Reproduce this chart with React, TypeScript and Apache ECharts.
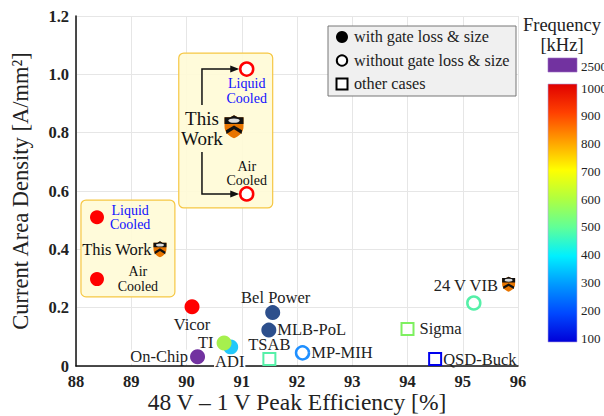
import React, { useEffect, useRef } from "react";
import * as echarts from "echarts";

const FONT = "'Liberation Serif', 'DejaVu Serif', serif";

// Axis ticks
const xMin = 88, xMax = 96, xStep = 1;
const yMin = 0, yMax = 1.2, yStep = 0.2;

// This work (filled, left box)
const twFilledEff = [88.38, 88.38];
const twFilledDensity = [0.51, 0.298];
// This work (hollow, right box)
const twHollowEff = [91.09, 91.09];
const twHollowDensity = [1.018, 0.59];

// Other filled circles (with gate loss & size)
const filledNames = ["Vicor", "Bel Power", "MLB-PoL", "ADI", "TI", "On-Chip"];
const filledEff = [90.1, 91.56, 91.49, 90.8, 90.68, 90.2];
const filledDensity = [0.203, 0.183, 0.123, 0.065, 0.079, 0.032];
const filledColors = ["#ff0000", "#2d4f8c", "#2d4f8c", "#22c8fa", "#a6f04e", "#7232a0"];

// Hollow circles (without gate loss & size)
const hollowNames = ["MP-MIH", "24 V VIB"];
const hollowEff = [92.1, 95.2];
const hollowDensity = [0.045, 0.216];
const hollowColors = ["#1e8fff", "#55f0a8"];

// Squares (other cases)
const squareNames = ["TSAB", "Sigma", "QSD-Buck"];
const squareEff = [91.5, 94.0, 94.5];
const squareDensity = [0.024, 0.127, 0.024];
const squareColors = ["#55f0a8", "#7ef060", "#0000ee"];

// Princeton logos
const logoEff = [89.52, 90.86, 95.83];
const logoDensity = [0.4, 0.82, 0.28];
const logoSizes = [[13, 16], [19, 23], [13, 15]];

// Legend
const legendLabels = ["with gate loss & size", "without gate loss & size", "other cases"];

// Colour bar
const freqTicks = [100, 200, 300, 400, 500, 600, 700, 800, 900, 1000];
const freqExtra = "2500";
const freqStops = ["#0000d8", "#0048ff", "#0098ff", "#00f0ff", "#60ff98", "#b0ff40", "#ffff00", "#ffa000", "#ff4000", "#e00000"];

const labelPos: Record<string, any> = {
  "Vicor": { position: "bottom", distance: 3 },
  "Bel Power": { position: "top", distance: 1, offset: [3, 0] },
  "MLB-PoL": { position: "right", distance: 1, offset: [0, -1] },
  "ADI": { position: "bottom", distance: 0, offset: [-1, 0], backgroundColor: "#ffffff", padding: [0, 1] },
  "TI": { position: "left", distance: 3 },
  "On-Chip": { position: "left", distance: 1, backgroundColor: "#ffffff", padding: [0, 1] },
  "MP-MIH": { position: "right", distance: 1 },
  "24 V VIB": { position: "top", distance: 3, offset: [-8, 0] },
  "TSAB": { position: "top", distance: 2, offset: [0, 1] },
  "Sigma": { position: "right", distance: 5 },
  "QSD-Buck": { position: "right", distance: 1 },
};

const labelBase = {
  show: true,
  color: "#222",
  fontFamily: FONT,
  fontSize: 16.5,
  lineHeight: 14,
};

function mk(names: string[], xs: number[], ys: number[], colors: string[], hollow: boolean) {
  return names.map((n, i) => ({
    name: n,
    value: [xs[i], ys[i]],
    itemStyle: hollow
      ? { color: "#ffffff", borderColor: colors[i], borderWidth: 2.5, opacity: 1 }
      : { color: colors[i], opacity: 1 },
    label: { ...labelBase, ...labelPos[n], formatter: n },
  }));
}

const SHIELD = "M0,2 L6,2 L10,0 L14,2 L20,2 L20,12 C20,18 15,22 10,24 C5,22 0,18 0,12 Z";
const SHIELD_TOP = "M0,2 L6,2 L10,0 L14,2 L20,2 L20,9 L0,9 Z";
const BOOK = "M4,5.5 A6,2.3 0 1,0 16,5.5 A6,2.3 0 1,0 4,5.5 Z";
const CHEVRON = "M1.5,15.5 L10,10.5 L18.5,15.5 L18,19.5 L10,14.5 L2,19.5 Z";

export default function App() {
  const ref = useRef<HTMLDivElement>(null);
  useEffect(() => {
    if (!ref.current) return;
    const chart = echarts.init(ref.current, null, { renderer: "svg" });
    const option: any = {
      animation: false,
      backgroundColor: "#ffffff",
      textStyle: { fontFamily: FONT },
      grid: { left: 76, right: 86, top: 16, bottom: 50, containLabel: false, outerBoundsMode: "none" },
      xAxis: {
        type: "value",
        min: xMin,
        max: xMax,
        interval: xStep,
        name: "48 V \u2013 1 V Peak Efficiency [%]",
        nameLocation: "middle",
        nameGap: 26,
        nameMoveOverlap: false,
        nameTextStyle: { fontSize: 23.5, color: "#222", fontFamily: FONT, lineHeight: 20 },
        axisLine: { lineStyle: { color: "#111", width: 1.5 } },
        axisTick: { show: false },
        axisLabel: { fontSize: 16.5, fontWeight: "bold", color: "#222", margin: 8, lineHeight: 14, fontFamily: FONT },
        splitLine: { show: true, lineStyle: { color: "#e6e6e6", width: 1 } },
      },
      yAxis: {
        type: "value",
        min: yMin,
        max: yMax,
        interval: yStep,
        name: "Current Area Density [A/mm\u00b2]",
        nameLocation: "middle",
        nameGap: 44,
        nameMoveOverlap: false,
        nameTextStyle: { fontSize: 22.5, color: "#222", fontFamily: FONT },
        axisLine: { show: true, lineStyle: { color: "#111", width: 1.5 } },
        axisTick: { show: false },
        axisLabel: {
          fontSize: 16.5,
          fontWeight: "bold",
          color: "#222",
          margin: 7,
          fontFamily: FONT,
          formatter: (v: number) => (v === 0 ? "0" : v.toFixed(1)),
        },
        splitLine: { show: true, lineStyle: { color: "#e6e6e6", width: 1 } },
      },
      series: [
        {
          type: "scatter",
          name: "this work filled",
          symbol: "circle",
          symbolSize: 14,
          z: 4,
          data: twFilledEff.map((x, i) => [x, twFilledDensity[i]]),
          itemStyle: { color: "#ff0000", opacity: 1 },
        },
        {
          type: "scatter",
          name: "this work hollow",
          symbol: "circle",
          symbolSize: 13,
          z: 4,
          data: twHollowEff.map((x, i) => [x, twHollowDensity[i]]),
          itemStyle: { color: "#ffffff", borderColor: "#ff0000", borderWidth: 2.5, opacity: 1 },
        },
        {
          type: "scatter",
          name: "filled",
          symbol: "circle",
          symbolSize: 15,
          z: 4,
          data: mk(filledNames, filledEff, filledDensity, filledColors, false),
        },
        {
          type: "scatter",
          name: "hollow",
          symbol: "circle",
          symbolSize: 13,
          z: 4,
          data: mk(hollowNames, hollowEff, hollowDensity, hollowColors, true),
        },
        {
          type: "scatter",
          name: "square",
          symbol: "rect",
          symbolSize: 12,
          z: 4,
          data: mk(squareNames, squareEff, squareDensity, squareColors, true).map((d) => ({
            ...d,
            itemStyle: { ...d.itemStyle, borderWidth: 2 },
          })),
        },
        {
          type: "custom",
          name: "logos",
          z: 6,
          data: logoEff.map((x, i) => [x, logoDensity[i], i]),
          renderItem: (params: any, api: any) => {
            const p = api.coord([api.value(0), api.value(1)]);
            const idx = api.value(2);
            const [w, h] = logoSizes[idx];
            const sx = w / 20;
            const sy = h / 24;
            return {
              type: "group",
              x: p[0] - w / 2,
              y: p[1] - h / 2,
              scaleX: sx,
              scaleY: sy,
              children: [
                { type: "path", shape: { pathData: SHIELD }, style: { fill: "#e87500" } },
                { type: "path", shape: { pathData: SHIELD_TOP }, style: { fill: "#111111" } },
                { type: "path", shape: { pathData: BOOK }, style: { fill: "#dcdcdc" } },
                { type: "path", shape: { pathData: CHEVRON }, style: { fill: "#111111" } },
              ],
            };
          },
        },
      ],
    };
    chart.setOption(option);

    const px = (x: number, y: number) => chart.convertToPixel({ gridIndex: 0 }, [x, y]) as number[];
    const g: any[] = [];

    // Yellow annotation boxes
    const boxes = [
      [88.09, 0.569, 89.79, 0.237],
      [89.86, 1.073, 91.56, 0.542],
    ];
    boxes.forEach(([x0, y0, x1, y1]) => {
      const a = px(x0, y0);
      const b = px(x1, y1);
      g.push({
        type: "rect",
        z: 1,
        shape: { x: a[0], y: a[1], width: b[0] - a[0], height: b[1] - a[1], r: 5 },
        style: { fill: "rgba(255,251,214,0.9)", stroke: "#f6c744", lineWidth: 1.2 },
      });
    });

    const txt = (x: number, y: number, lines: string[], size: number, color: string, lh: number) => {
      const p = px(x, y);
      lines.forEach((line, i) => {
        g.push({
          type: "text",
          z: 5,
          x: p[0],
          y: p[1] + (i - (lines.length - 1) / 2) * lh,
          style: {
            text: line,
            fontFamily: FONT,
            fontSize: size,
            fill: color,
            align: "center",
            verticalAlign: "middle",
          },
        });
      });
    };
    // Left box
    txt(88.98, 0.509, ["Liquid", "Cooled"], 14, "#1010ff", 14.5);
    txt(88.74, 0.398, ["This Work"], 16.5, "#111", 17);
    txt(89.12, 0.298, ["Air", "Cooled"], 14, "#111", 14.5);
    // Right box
    txt(91.09, 0.943, ["Liquid", "Cooled"], 14, "#1010ff", 14.5);
    txt(90.28, 0.814, ["This", "Work"], 19, "#111", 19.5);
    txt(91.09, 0.66, ["Air", "Cooled"], 14, "#111", 14.5);

    // Arrows
    const arrows = [
      [90.28, 0.895, 1.018],
      [90.28, 0.734, 0.59],
    ];
    arrows.forEach(([x, yStart, yEnd]) => {
      const s = px(x, yStart);
      const c = px(x, yEnd);
      const tip = px(90.955, yEnd);
      g.push({
        type: "polyline",
        z: 5,
        shape: { points: [s, c, [tip[0] - 7, c[1]]] },
        style: { stroke: "#111", lineWidth: 1.5, fill: null },
      });
      g.push({
        type: "polygon",
        z: 5,
        shape: { points: [[tip[0], tip[1]], [tip[0] - 9, tip[1] - 3.5], [tip[0] - 9, tip[1] + 3.5]] },
        style: { fill: "#111" },
      });
    });

    // Legend
    const lx = 328, ly = 26;
    g.push({
      type: "rect",
      z: 10,
      shape: { x: lx, y: ly, width: 188, height: 70 },
      style: { fill: "#f0f0f0", stroke: "#777", lineWidth: 1 },
    });
    legendLabels.forEach((t, i) => {
      const cy = 37 + i * 23.5;
      if (i === 0) {
        g.push({ type: "circle", z: 11, shape: { cx: 342, cy, r: 6 }, style: { fill: "#000" } });
      } else if (i === 1) {
        g.push({ type: "circle", z: 11, shape: { cx: 342, cy, r: 5.2 }, style: { fill: "#fff", stroke: "#000", lineWidth: 2 } });
      } else {
        g.push({ type: "rect", z: 11, shape: { x: 336.5, y: cy - 5.5, width: 11, height: 11 }, style: { fill: "#fff", stroke: "#000", lineWidth: 2 } });
      }
      g.push({
        type: "text",
        z: 11,
        x: 354,
        y: cy,
        style: { text: t, fontFamily: FONT, fontSize: 16.2, fill: "#222", verticalAlign: "middle" },
      });
    });

    // Colour bar
    const cbX = 548, cbW = 29, cbTop = 84, cbBot = 342;
    const tickTop = 88, tickBot = 338;
    g.push({
      type: "text",
      x: 562,
      y: 25,
      style: { text: "Frequency", fontFamily: FONT, fontSize: 18.5, fill: "#222", align: "center", verticalAlign: "middle" },
    });
    g.push({
      type: "text",
      x: 562,
      y: 45,
      style: { text: "[kHz]", fontFamily: FONT, fontSize: 18.5, fill: "#222", align: "center", verticalAlign: "middle" },
    });
    g.push({
      type: "rect",
      shape: { x: cbX, y: 58, width: cbW, height: 14 },
      style: { fill: "#7232a0", stroke: "#9b6bc4", lineWidth: 0.6 },
    });
    g.push({
      type: "text",
      x: 581,
      y: 66,
      style: { text: freqExtra, fontFamily: FONT, fontSize: 13, fill: "#222", verticalAlign: "middle" },
    });
    g.push({
      type: "rect",
      shape: { x: cbX, y: cbTop, width: cbW, height: cbBot - cbTop },
      style: {
        fill: new echarts.graphic.LinearGradient(
          0, 1, 0, 0,
          freqStops.map((c, i) => ({ offset: i / (freqStops.length - 1), color: c }))
        ),
        stroke: "#b0a0e0",
        lineWidth: 0.6,
      },
    });
    const fMin = freqTicks[0];
    const fMax = freqTicks[freqTicks.length - 1];
    freqTicks.forEach((f) => {
      const y = tickBot - ((f - fMin) / (fMax - fMin)) * (tickBot - tickTop);
      g.push({
        type: "text",
        x: 581,
        y,
        style: { text: String(f), fontFamily: FONT, fontSize: 13, fill: "#222", verticalAlign: "middle" },
      });
    });

    chart.setOption({ graphic: g });
    return () => chart.dispose();
  }, []);
  return <div ref={ref} style={{ width: 604, height: 416, position: "absolute", left: 0, top: 0 }} />;
}
